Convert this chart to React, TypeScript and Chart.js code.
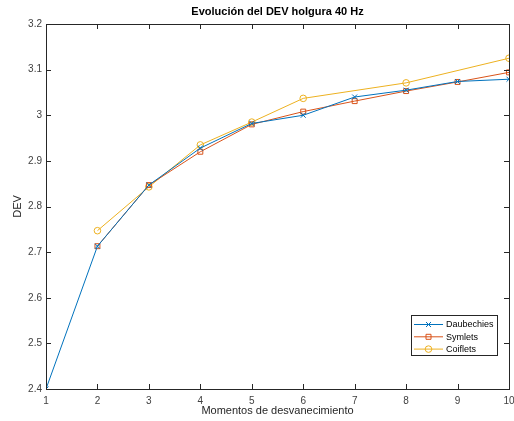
import React, { useEffect, useRef } from "react";
import { Chart, registerables } from "chart.js";

Chart.register(...registerables);

const xValues = [1, 2, 3, 4, 5, 6, 7, 8, 9, 10];
const daubechies = [2.4, 2.713, 2.847, 2.928, 2.982, 3.0, 3.04, 3.055, 3.074, 3.079];
const symletsX = [2, 3, 4, 5, 6, 7, 8, 9, 10];
const symlets = [2.713, 2.847, 2.92, 2.98, 3.008, 3.031, 3.053, 3.073, 3.094];
const coifletsX = [2, 3, 4, 5, 6, 8, 10];
const coiflets = [2.747, 2.843, 2.935, 2.985, 3.037, 3.071, 3.125];
const yTickValues = [2.4, 2.5, 2.6, 2.7, 2.8, 2.9, 3.0, 3.1, 3.2];
const yTickLabels = ["2.4", "2.5", "2.6", "2.7", "2.8", "2.9", "3", "3.1", "3.2"];
const seriesNames = ["Daubechies", "Symlets", "Coiflets"];
const colors = ["#0072BD", "#D95319", "#EDB120"];
const title = "Evolución del DEV holgura 40 Hz";
const xTitle = "Momentos de desvanecimiento";
const yTitle = "DEV";

const FONT = "'Liberation Sans', Arial, Helvetica, sans-serif";

function drawMarker(ctx: CanvasRenderingContext2D, style: string, x: number, y: number, color: string) {
  ctx.save();
  ctx.strokeStyle = color;
  ctx.lineWidth = 1;
  ctx.beginPath();
  if (style === "crossRot") {
    const r = 2.5;
    ctx.moveTo(x - r, y - r); ctx.lineTo(x + r, y + r);
    ctx.moveTo(x + r, y - r); ctx.lineTo(x - r, y + r);
  } else if (style === "rect") {
    const r = 2.5;
    ctx.rect(x - r, y - r, 2 * r, 2 * r);
  } else {
    ctx.arc(x, y, 3.3, 0, Math.PI * 2);
  }
  ctx.stroke();
  ctx.restore();
}

const styles = ["crossRot", "rect", "circle"];

const decorPlugin = {
  id: "decor",
  afterDraw(chart: any) {
    const ctx: CanvasRenderingContext2D = chart.ctx;
    const a = chart.chartArea;
    const xs = chart.scales.x;
    const ys = chart.scales.y;
    ctx.save();
    ctx.strokeStyle = "#262626";
    ctx.lineWidth = 1;
    ctx.strokeRect(Math.round(a.left) + 0.5, Math.round(a.top) + 0.5, Math.round(a.right - a.left), Math.round(a.bottom - a.top));
    ctx.beginPath();
    for (const v of xValues) {
      const px = Math.round(xs.getPixelForValue(v)) + 0.5;
      ctx.moveTo(px, a.bottom); ctx.lineTo(px, a.bottom - 5);
      ctx.moveTo(px, a.top); ctx.lineTo(px, a.top + 5);
    }
    for (const v of yTickValues) {
      const py = Math.round(ys.getPixelForValue(v)) + 0.5;
      ctx.moveTo(a.left, py); ctx.lineTo(a.left + 5, py);
      ctx.moveTo(a.right, py); ctx.lineTo(a.right - 5, py);
    }
    ctx.stroke();
    ctx.fillStyle = "#000";
    ctx.font = `bold 11px ${FONT}`;
    ctx.textAlign = "center";
    ctx.textBaseline = "middle";
    ctx.fillText(title, (a.left + a.right) / 2, 12);
    ctx.fillStyle = "#262626";
    ctx.font = `11px ${FONT}`;
    ctx.fillText(xTitle, (a.left + a.right) / 2, 411);
    ctx.save();
    ctx.translate(18, (a.top + a.bottom) / 2);
    ctx.rotate(-Math.PI / 2);
    ctx.fillText(yTitle, 0, 0);
    ctx.restore();
    const lx = 411, ly = 315, lw = 86, lh = 40;
    ctx.fillStyle = "#fff";
    ctx.fillRect(lx, ly, lw, lh);
    ctx.strokeStyle = "#262626";
    ctx.strokeRect(lx + 0.5, ly + 0.5, lw, lh);
    ctx.font = `9px ${FONT}`;
    ctx.textAlign = "left";
    for (let i = 0; i < seriesNames.length; i++) {
      const y = ly + 9.5 + i * 12.3;
      ctx.strokeStyle = colors[i];
      ctx.beginPath();
      ctx.moveTo(lx + 3, y); ctx.lineTo(lx + 32, y);
      ctx.stroke();
      drawMarker(ctx, styles[i], lx + 17.5, y, colors[i]);
      ctx.fillStyle = "#000";
      ctx.fillText(seriesNames[i], lx + 35, y + 0.5);
    }
    ctx.restore();
  },
};

export default function App() {
  const ref = useRef<HTMLCanvasElement>(null);
  useEffect(() => {
    document.body.style.margin = "0";
    const mk = (xsArr: number[], ysArr: number[]) => xsArr.map((x, i) => ({ x, y: ysArr[i] }));
    const chart = new Chart(ref.current!, {
      type: "line",
      data: {
        datasets: [
          { label: seriesNames[0], data: mk(xValues, daubechies), borderColor: colors[0], backgroundColor: "transparent", borderWidth: 1, pointStyle: "crossRot", pointRadius: 3.5, pointBorderColor: colors[0], pointBorderWidth: 1 },
          { label: seriesNames[1], data: mk(symletsX, symlets), borderColor: colors[1], backgroundColor: "transparent", borderWidth: 1, pointStyle: "rect", pointRadius: 3.5, pointBorderColor: colors[1], pointBackgroundColor: "transparent", pointBorderWidth: 1 },
          { label: seriesNames[2], data: mk(coifletsX, coiflets), borderColor: colors[2], backgroundColor: "transparent", borderWidth: 1, pointStyle: "circle", pointRadius: 3.3, pointBorderColor: colors[2], pointBackgroundColor: "transparent", pointBorderWidth: 1 },
        ],
      },
      options: {
        animation: false,
        responsive: false,
        devicePixelRatio: 1,
        layout: { padding: { top: 24, right: 5, left: 0, bottom: 0 } },
        plugins: { legend: { display: false }, title: { display: false }, tooltip: { enabled: false } },
        scales: {
          x: {
            type: "linear",
            min: 1,
            max: 10,
            afterFit: (s: any) => { s.height = 32; s.paddingLeft = 0; s.paddingRight = 0; },
            afterBuildTicks: (s: any) => { s.ticks = xValues.map((v) => ({ value: v })); },
            grid: { display: false, drawTicks: false },
            border: { display: false },
            ticks: { color: "#404040", font: { size: 10, family: FONT }, padding: 6, maxRotation: 0, callback: (v: any) => String(v) },
          },
          y: {
            type: "linear",
            min: 2.4,
            max: 3.2,
            afterFit: (s: any) => { s.width = 46; s.paddingTop = 0; s.paddingBottom = 0; },
            afterBuildTicks: (s: any) => { s.ticks = yTickValues.map((v) => ({ value: v })); },
            grid: { display: false, drawTicks: false },
            border: { display: false },
            ticks: {
              color: "#404040",
              font: { size: 10, family: FONT },
              padding: 4,
              callback: (v: any) => {
                const i = yTickValues.findIndex((t) => Math.abs(t - v) < 1e-6);
                return i >= 0 ? yTickLabels[i] : "";
              },
            },
          },
        },
      },
      plugins: [decorPlugin],
    });
    return () => chart.destroy();
  }, []);
  return <canvas ref={ref} width={514} height={421} style={{ display: "block" }} />;
}
